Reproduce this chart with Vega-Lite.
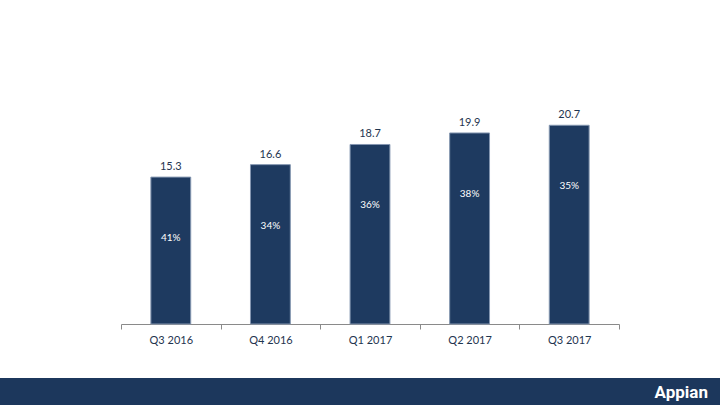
{
  "$schema": "https://vega.github.io/schema/vega-lite/v6.json",
  "padding": 0,
  "background": "white",
  "spacing": 33,
  "config": {"view": {"stroke": null}, "font": "Lato"},
  "vconcat": [
    {
      "width": 498,
      "height": 324,
      "data": {
        "values": [
          {"quarter": "Q3 2016", "revenue": 15.3, "growth": "41%"},
          {"quarter": "Q4 2016", "revenue": 16.6, "growth": "34%"},
          {"quarter": "Q1 2017", "revenue": 18.7, "growth": "36%"},
          {"quarter": "Q2 2017", "revenue": 19.9, "growth": "38%"},
          {"quarter": "Q3 2017", "revenue": 20.7, "growth": "35%"}
        ]
      },
      "encoding": {
        "x": {
          "field": "quarter",
          "type": "nominal",
          "sort": null,
          "scale": {"paddingInner": 0, "paddingOuter": 0},
          "axis": {
            "title": null,
            "labelAngle": 0,
            "labelFont": "Lato",
            "labelFontSize": 11,
            "labelColor": "#1f3550",
            "labelPadding": 5,
            "ticks": true,
            "tickBand": "extent",
            "tickSize": 5,
            "tickWidth": 1,
            "tickColor": "#8a8a8a",
            "tickOpacity": 1,
            "domainColor": "#8a8a8a",
            "grid": false
          }
        },
        "y": {
          "field": "revenue",
          "type": "quantitative",
          "scale": {"domain": [0, 33.75], "nice": false},
          "axis": {
            "title": null,
            "labels": false,
            "ticks": false,
            "domain": false,
            "grid": false,
            "minExtent": 121,
            "maxExtent": 121
          }
        }
      },
      "layer": [
        {
          "mark": {"type": "bar", "width": {"band": 0.4}, "color": "#1e3a60", "stroke": "#8496b0", "strokeWidth": 1}
        },
        {
          "mark": {"type": "text", "baseline": "bottom", "dy": -5, "fontSize": 11, "color": "#1f3550"},
          "encoding": {"text": {"field": "revenue", "type": "quantitative", "format": ".1f"}}
        },
        {
          "mark": {"type": "text", "baseline": "middle", "dy": 61, "fontSize": 10, "color": "white"},
          "encoding": {"text": {"field": "growth", "type": "nominal"}}
        }
      ]
    },
    {
      "width": 599,
      "height": 27,
      "data": {"values": [{"start": 0, "end": 1, "brand": "Appian"}]},
      "layer": [
        {
          "mark": {"type": "rect", "color": "#1c375c"},
          "encoding": {
            "x": {"field": "start", "type": "quantitative", "scale": {"domain": [0, 1], "range": [-121, 599], "nice": false}, "axis": null},
            "x2": {"field": "end"}
          }
        },
        {
          "mark": {"type": "text", "align": "right", "baseline": "middle", "dx": -12, "dy": 1, "fontSize": 17, "fontWeight": "bold", "font": "Roboto", "color": "white"},
          "encoding": {
            "x": {"field": "end", "type": "quantitative"},
            "text": {"field": "brand", "type": "nominal"}
          }
        }
      ]
    }
  ]
}
